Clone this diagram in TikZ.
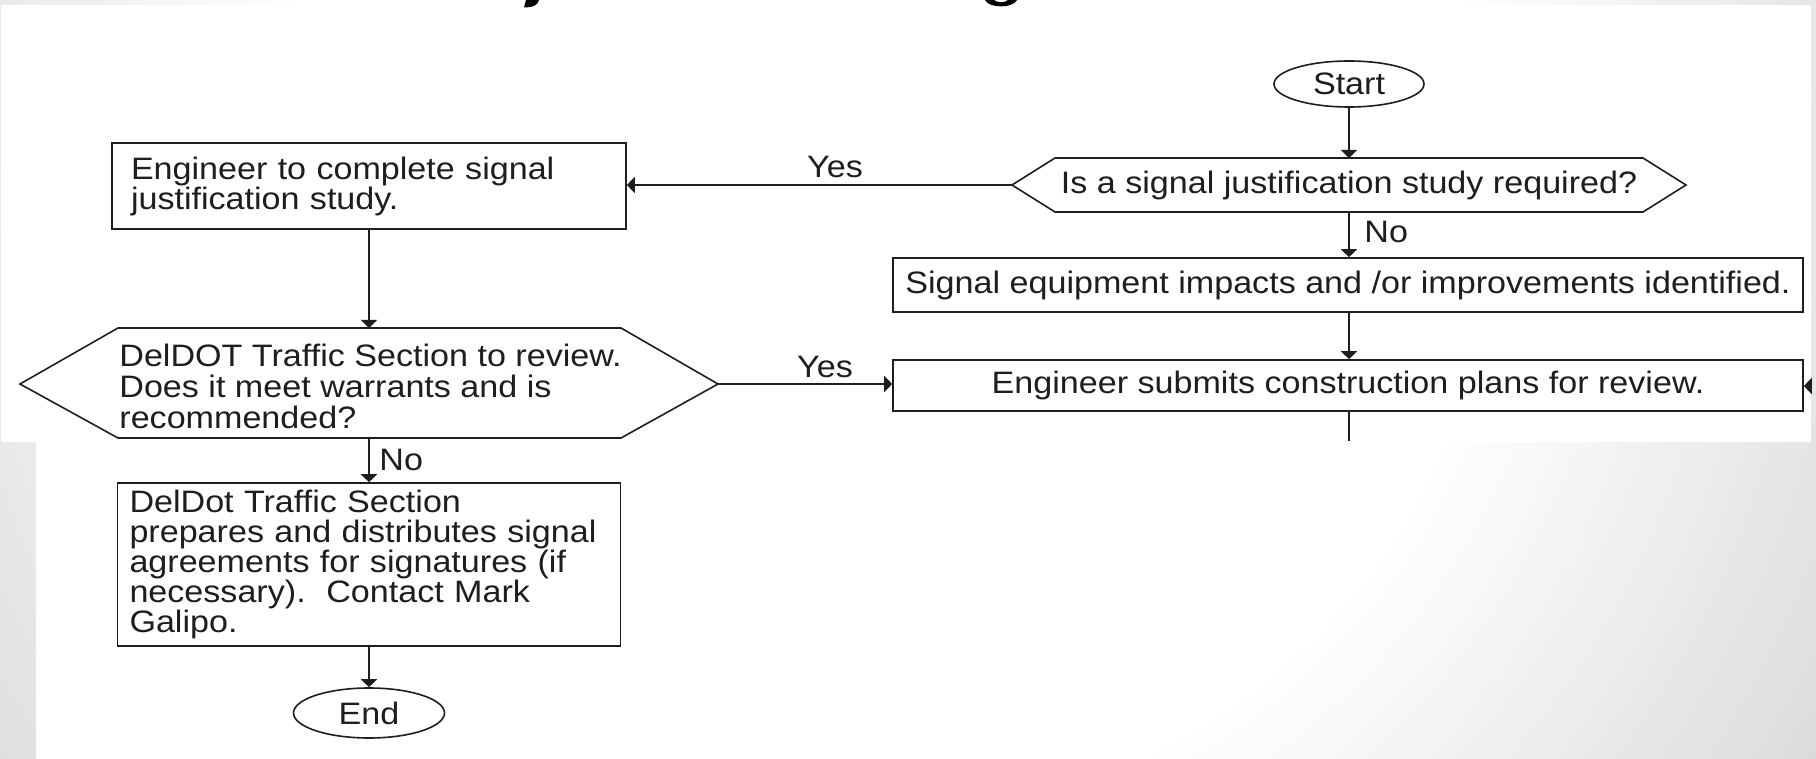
\documentclass[tikz,border=0pt]{standalone}
\usepackage{fontspec}
\setmainfont{Liberation Sans}[FakeStretch=1.1]
\usetikzlibrary{arrows.meta,calc,shapes.geometric}
\definecolor{ink}{HTML}{1E1E1E}
\newcommand\fsa{\fontsize{15.5}{15}\selectfont}
\newcommand\fsb{\fontsize{15.5}{15.5}\selectfont}
\tikzset{
  box/.style={draw=ink, line width=0.8pt, rectangle, inner ysep=0pt, font=\fsa, text=ink},
  term/.style={draw=ink, line width=0.8pt, ellipse, inner sep=0pt, font=\fsa, text=ink},
  lbl/.style={font=\fsa, inner sep=0pt, text=ink},
  arr/.style={draw=ink, line width=0.8pt, -{Triangle[length=4pt,width=8pt]}},
  plainline/.style={draw=ink, line width=0.8pt},
  hex/.style={draw=ink, line width=0.8pt, line join=miter}
}
\begin{document}
\begin{tikzpicture}[x=0.5pt, y=-0.5pt]
\useasboundingbox (0,0) rectangle (1816,759);
% slide background: soft radial grey
\begin{scope}
  \clip (0,0) rectangle (1816,759);
  \foreach \i in {0,...,29} {
    \pgfmathsetmacro\rr{1200-20*\i}
    \pgfmathsetmacro\rp{0.5*\rr}
    \pgfmathsetmacro\gv{1-0.14*min(1,max(0,(\rr-620)/480))}
    \definecolor{bgc}{gray}{\gv}
    \fill[bgc] (880,200) circle[radius=\rp pt];
  }
\end{scope}
% pasted flowchart images
\fill[white] (1,5) rectangle (1811,442);
\fill[white] (36,442) rectangle (900,759);
% title descenders cut off at the top
\fill[black] (526,0) -- (539,0) .. controls (538,5) and (533,7.5) .. (524,7.5) -- cycle;
\fill[black] (985,0) .. controls (989,8.5) and (1013,8.5) .. (1017,0) -- (1008,0) .. controls (1005,3) and (997,3) .. (994,0) -- cycle;

% right column
\node[term, minimum width=75pt, minimum height=23pt] (start) at (1349,84) {Start};
\node[lbl] (d1) at (1349,185) {Is a signal justification study required?};
\draw[hex] (1012,185) coordinate (d1w) -- (1055,158) -- (1643,158) -- (1686,185) coordinate (d1e) -- (1643,212) -- (1055,212) -- cycle;
\coordinate (d1n) at (1349,158);
\coordinate (d1s) at (1349,212);
\node[box, minimum width=455pt, minimum height=27pt, align=center] (b2) at (1348,285) {Signal equipment impacts and /or improvements identified.};
\node[box, minimum width=455pt, minimum height=25.5pt, align=center] (b3) at (1348,385.5) {Engineer submits construction plans for review.};
\coordinate (bout) at (1349,441);
\coordinate (rin) at (1812,386);

% left column
\node[box, text width=238pt, inner xsep=9.5pt, minimum height=43pt, align=left] (b1) at (369,186) {Engineer to complete signal\\justification study.};
\node[lbl, align=left, font=\fsb, anchor=west] (d2) at (119,386) {DelDOT Traffic Section to review.\\Does it meet warrants and is\\recommended?};
\draw[hex] (20,384) coordinate (d2w) -- (118,328) -- (621,328) -- (718,384) coordinate (d2e) -- (621,438) -- (118,438) -- cycle;
\coordinate (d2n) at (369,328);
\coordinate (d2s) at (369,438);
\node[box, text width=239.5pt, inner xsep=6pt, minimum height=81.5pt, align=left] (b4) at (369,564.5) {DelDot Traffic Section\\prepares and distributes signal\\agreements for signatures (if\\necessary).\ \ Contact Mark\\Galipo.};
\node[term, minimum width=75.5pt, minimum height=25pt] (end) at (369,713) {End};

% connectors
\draw[arr] (start) -- (d1n);
\draw[arr] (d1w) -- (d1w -| b1.east);
\draw[arr] (d1s) -- (d1s |- b2.north);
\draw[arr] (b2.south -| d1s) -- (b3.north -| d1s);
\draw[plainline] (b3.south -| d1s) -- (bout);
\draw[arr] (rin) -- (rin -| b3.east);
\draw[arr] (b1) -- (d2n);
\draw[arr] (d2e) -- (d2e -| b3.west);
\draw[arr] (d2s) -- (b4);
\draw[arr] (b4) -- (end);

% labels
\node[lbl, anchor=base] (yes1) at (835,178) {Yes};
\node[lbl, anchor=base west] (no1) at (1364,243) {No};
\node[lbl, anchor=base] (yes2) at (825,378) {Yes};
\node[lbl, anchor=base west] (no2) at (379,470) {No};
\end{tikzpicture}
\end{document}
